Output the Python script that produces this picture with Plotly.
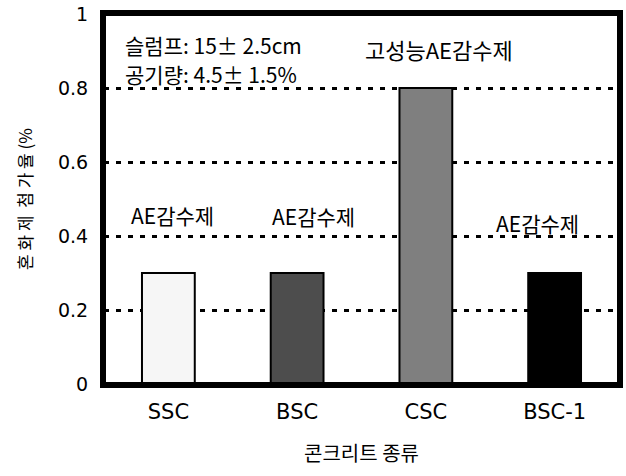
import plotly.graph_objects as go

categories = ["SSC", "BSC", "CSC", "BSC-1"]
values = [0.30, 0.30, 0.80, 0.30]
bar_labels = ["AE감수제", "AE감수제", "고성능AE감수제", "AE감수제"]
y_ticks = [0, 0.2, 0.4, 0.6, 0.8, 1]
y_tick_text = ["0", "0.2", "0.4", "0.6", "0.8", "1"]
note_lines = ["슬럼프: 15± 2.5cm", "공기량: 4.5± 1.5%"]
x_title = "콘크리트 종류"
y_title = "혼 화 제  첨 가 율 (%"

KR = "Noto Sans CJK KR"
LAT = "DejaVu Sans"

fig = go.Figure()
fills = ["#f6f6f6", "#4d4d4d", "#7f7f7f", "black"]
for i, (c, v) in enumerate(zip(categories, values)):
    marker = dict(color=fills[i], line=dict(color="black", width=2))
    fig.add_trace(go.Bar(x=[c], y=[v], width=0.41, marker=marker, showlegend=False))

fig.update_layout(
    width=626, height=476,
    margin=dict(l=104, r=3, t=14, b=92),
    paper_bgcolor="white", plot_bgcolor="white",
    font=dict(family=KR, size=17, color="black"),
)
fig.update_xaxes(
    categoryorder="array", categoryarray=categories,
    range=[-0.5, 3.5],
    showline=True, linecolor="black", linewidth=4, mirror=True,
    ticks="", showgrid=False,
    tickfont=dict(family=LAT, size=21), ticklabelstandoff=6,
    title=dict(text=x_title, font=dict(family=KR, size=20), standoff=25),
)
fig.update_yaxes(
    range=[0, 1], tickvals=y_ticks, ticktext=y_tick_text,
    showline=True, linecolor="black", linewidth=4, mirror=True,
    ticks="", showgrid=True, gridcolor="black", gridwidth=3, griddash="5px,7px",
    tickfont=dict(family=LAT, size=19), ticklabelstandoff=8,
    title=dict(text=y_title, font=dict(family=KR, size=17), standoff=22),
    zeroline=False,
)

fig.add_shape(type="rect", xref="paper", yref="paper", x0=0, x1=1, y0=0, y1=1,
              line=dict(color="black", width=4), fillcolor="rgba(0,0,0,0)", layer="above")

label_pos = [(0.035, 0.458), (1.126, 0.454), (2.10, 0.905), (2.87, 0.435)]
for (xi, yv), t in zip(label_pos, bar_labels):
    fig.add_annotation(x=xi, y=yv, xref="x", yref="y", text=t, showarrow=False,
                       font=dict(family=KR, size=21 if len(t) < 6 else 22),
                       xanchor="center", yanchor="middle")

for k, t in enumerate(note_lines):
    fig.add_annotation(x=0.037, y=[0.915, 0.837][k], xref="paper", yref="y", text=t,
                       showarrow=False, xanchor="left", yanchor="middle",
                       font=dict(family=KR, size=21))

fig.write_html("out.html", post_script="document.body.style.margin='0';",
               config={"displayModeBar": False})
